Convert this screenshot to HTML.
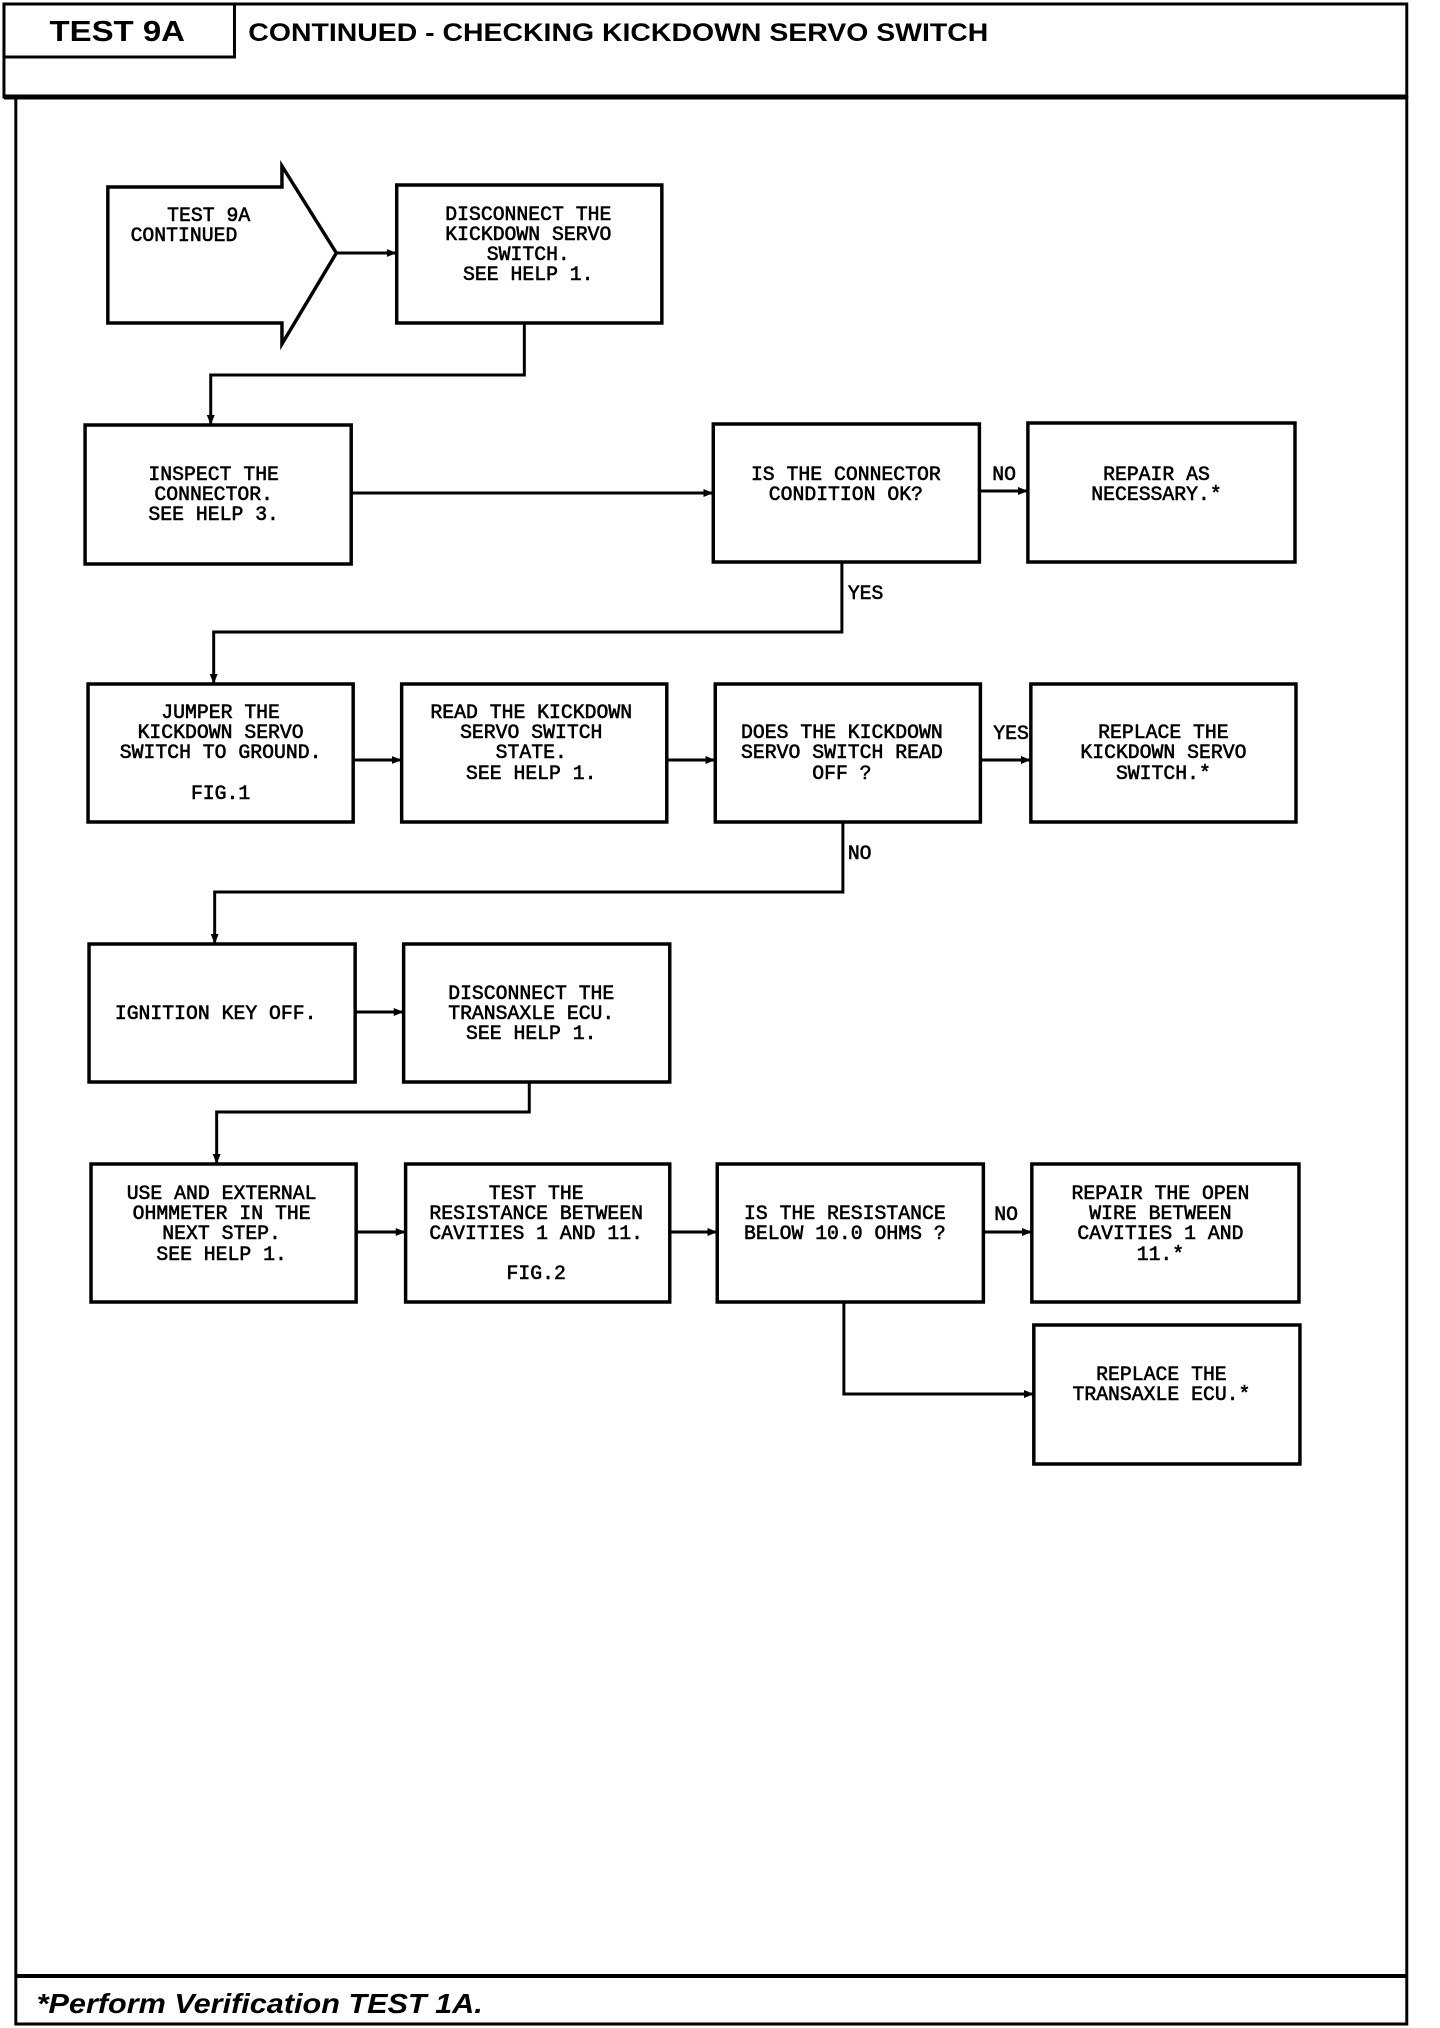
<!DOCTYPE html>
<html><head><meta charset="utf-8"><style>
html,body{margin:0;padding:0;background:#fff;}
svg{display:block;}
.t{font-family:"Liberation Mono",monospace;font-size:20px;fill:#000;stroke:#000;stroke-width:0.6;}
.b{fill:#fff;stroke:#000;stroke-width:3.5;}
.l{fill:none;stroke:#000;stroke-width:3;}
</style></head><body>
<svg width="1440" height="2028" viewBox="0 0 1440 2028" xmlns="http://www.w3.org/2000/svg">
<defs><marker id="a" markerWidth="10" markerHeight="10" refX="9" refY="5" orient="auto" markerUnits="userSpaceOnUse"><path d="M0,1 L10,5 L0,9 Z" fill="#000"/></marker></defs>
<g transform="scale(0.9893 1)">
<rect x="4" y="4" width="1418" height="93" fill="none" stroke="#000" stroke-width="3"/>
<rect x="4" y="4" width="233" height="53" fill="none" stroke="#000" stroke-width="3"/>
<line x1="4" y1="97" x2="1422" y2="97" stroke="#000" stroke-width="5"/>
<rect x="16" y="97" width="1406" height="1927" fill="none" stroke="#000" stroke-width="3"/>
<line x1="16" y1="1976" x2="1422" y2="1976" stroke="#000" stroke-width="4"/>
<text x="50" y="41" font-family="Liberation Sans,sans-serif" font-weight="bold" font-size="29" textLength="137" lengthAdjust="spacingAndGlyphs">TEST 9A</text>
<text x="251" y="41" font-family="Liberation Sans,sans-serif" font-weight="bold" font-size="25" textLength="748" lengthAdjust="spacingAndGlyphs">CONTINUED -  CHECKING KICKDOWN SERVO SWITCH</text>
<text x="37" y="2013" font-family="Liberation Sans,sans-serif" font-weight="bold" font-style="italic" font-size="28" textLength="451" lengthAdjust="spacingAndGlyphs">*Perform Verification TEST 1A.</text>

<path d="M109,187 L285,187 L285,166 L340,253 L285,344 L285,323 L109,323 Z" class="b"/>
<text class="t" x="169" y="221">TEST 9A</text>
<text class="t" x="132" y="241">CONTINUED</text>

<g class="b">
<rect x="401" y="185" width="268" height="138"/>
<rect x="86" y="425" width="269" height="139"/>
<rect x="721" y="424" width="269" height="138"/>
<rect x="1039" y="423" width="270" height="139"/>
<rect x="89" y="684" width="268" height="138"/>
<rect x="406" y="684" width="268" height="138"/>
<rect x="723" y="684" width="268" height="138"/>
<rect x="1042" y="684" width="268" height="138"/>
<rect x="90" y="944" width="269" height="138"/>
<rect x="408" y="944" width="269" height="138"/>
<rect x="92" y="1164" width="268" height="138"/>
<rect x="410" y="1164" width="267" height="138"/>
<rect x="725" y="1164" width="269" height="138"/>
<rect x="1043" y="1164" width="270" height="138"/>
<rect x="1045" y="1325" width="269" height="139"/>
</g>

<g class="l" marker-end="url(#a)">
<line x1="340" y1="253" x2="400" y2="253"/>
<polyline points="530,323 530,375 213,375 213,424"/>
<line x1="355" y1="493" x2="720" y2="493"/>
<line x1="990" y1="491" x2="1038" y2="491"/>
<polyline points="851,562 851,632 216,632 216,683"/>
<line x1="357" y1="760" x2="405" y2="760"/>
<line x1="674" y1="760" x2="722" y2="760"/>
<line x1="991" y1="760" x2="1041" y2="760"/>
<polyline points="852,822 852,892 217,892 217,943"/>
<line x1="359" y1="1012" x2="407" y2="1012"/>
<polyline points="535,1082 535,1112 219,1112 219,1163"/>
<line x1="360" y1="1232" x2="409" y2="1232"/>
<line x1="677" y1="1232" x2="724" y2="1232"/>
<line x1="994" y1="1232" x2="1042" y2="1232"/>
<polyline points="853,1302 853,1394 1044,1394"/>
</g>

<text class="t" x="1003" y="480">NO</text>
<text class="t" x="857" y="599">YES</text>
<text class="t" x="1004" y="739">YES</text>
<text class="t" x="857" y="859">NO</text>
<text class="t" x="1005" y="1220">NO</text>

<g class="t" text-anchor="middle">
<text x="534" y="220">DISCONNECT THE</text><text x="534" y="240">KICKDOWN SERVO</text><text x="534" y="260">SWITCH.</text><text x="534" y="280">SEE HELP 1.</text>
<text x="216" y="480">INSPECT THE</text><text x="216" y="500">CONNECTOR.</text><text x="216" y="520">SEE HELP 3.</text>
<text x="855" y="480">IS THE CONNECTOR</text><text x="855" y="500">CONDITION OK?</text>
<text x="1169" y="480">REPAIR AS</text><text x="1169" y="500">NECESSARY.*</text>
<text x="223" y="718">JUMPER THE</text><text x="223" y="738">KICKDOWN SERVO</text><text x="223" y="758">SWITCH TO GROUND.</text><text x="223" y="799">FIG.1</text>
<text x="537" y="718">READ THE KICKDOWN</text><text x="537" y="738">SERVO SWITCH</text><text x="537" y="758">STATE.</text><text x="537" y="779">SEE HELP 1.</text>
<text x="851" y="738">DOES THE KICKDOWN</text><text x="851" y="758">SERVO SWITCH READ</text><text x="851" y="779">OFF ?</text>
<text x="1176" y="738">REPLACE THE</text><text x="1176" y="758">KICKDOWN SERVO</text><text x="1176" y="779">SWITCH.*</text>
<text x="218" y="1019">IGNITION KEY OFF.</text>
<text x="537" y="999">DISCONNECT THE</text><text x="537" y="1019">TRANSAXLE ECU.</text><text x="537" y="1039">SEE HELP 1.</text>
<text x="224" y="1199">USE AND EXTERNAL</text><text x="224" y="1219">OHMMETER IN THE</text><text x="224" y="1239">NEXT STEP.</text><text x="224" y="1260">SEE HELP 1.</text>
<text x="542" y="1199">TEST THE</text><text x="542" y="1219">RESISTANCE BETWEEN</text><text x="542" y="1239">CAVITIES 1 AND 11.</text><text x="542" y="1279">FIG.2</text>
<text x="854" y="1219">IS THE RESISTANCE</text><text x="854" y="1239">BELOW 10.0 OHMS ?</text>
<text x="1173" y="1199">REPAIR THE OPEN</text><text x="1173" y="1219">WIRE BETWEEN</text><text x="1173" y="1239">CAVITIES 1 AND</text><text x="1173" y="1260">11.*</text>
<text x="1174" y="1380">REPLACE THE</text><text x="1174" y="1400">TRANSAXLE ECU.*</text>
</g>
</g>
</svg>
</body></html>
